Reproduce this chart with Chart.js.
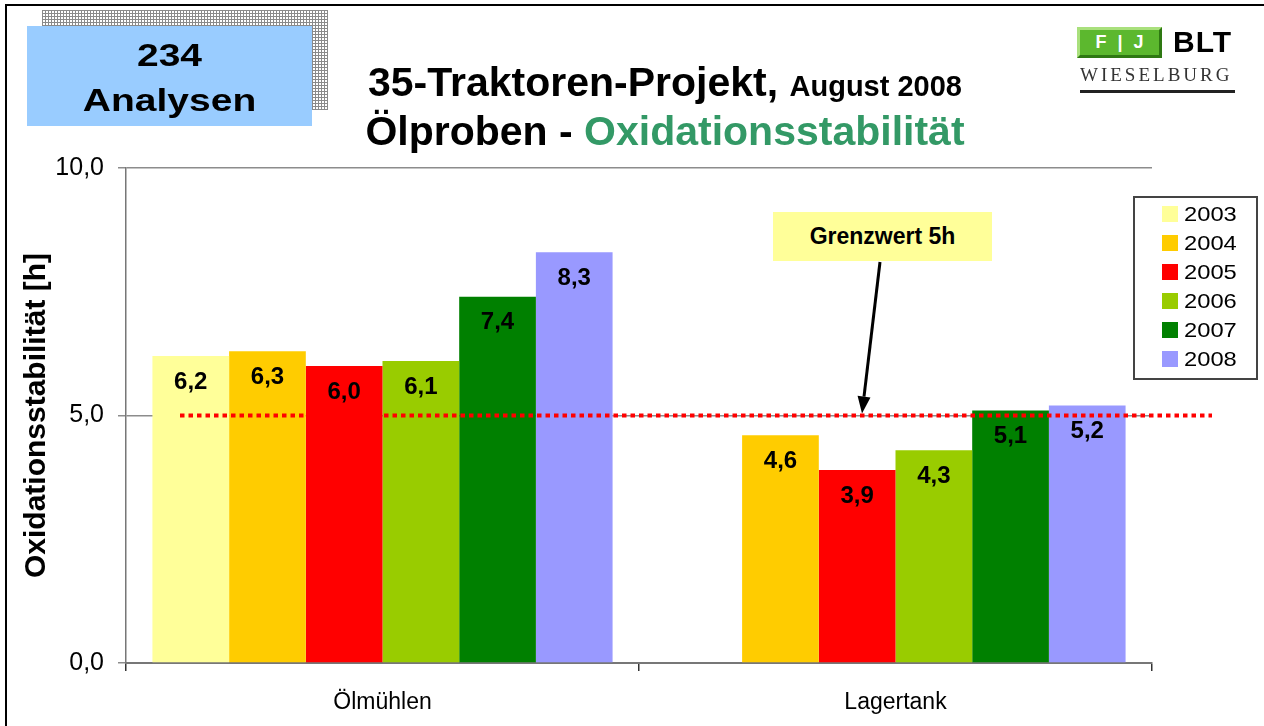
<!DOCTYPE html>
<html lang="de">
<head>
<meta charset="utf-8">
<title>35-Traktoren-Projekt – Oxidationsstabilität</title>
<script src="https://cdn.jsdelivr.net/npm/chart.js@4"></script>
<style>
  body { margin: 0; background: #fff; font-family: 'Liberation Sans', Arial, sans-serif; }
  #wrap { position: relative; width: 1264px; height: 726px; overflow: hidden; }
  #frame { position: absolute; left: 5px; top: 4px; width: 1300px; height: 800px;
    border-top: 2px solid #000; border-left: 2px solid #000; }
  canvas { position: absolute; left: 0; top: 0; }
  .shadow { position: absolute; left: 42px; top: 10px; width: 286px; height: 100px;
    background-color: #fff;
    background-image: linear-gradient(#8a8a8a 1px, transparent 1px),
      linear-gradient(90deg, #8a8a8a 1px, transparent 1px);
    background-size: 3px 3px; }
  .count { position: absolute; left: 27px; top: 26px; width: 285px; height: 100px; background: #99ccff; }
  .count div { position: absolute; left: 0; width: 100%; text-align: center; font-weight: bold;
    font-size: 39px; line-height: 39px; transform: scaleY(0.8); }
  .title { position: absolute; left: 330px; width: 670px; text-align: center; font-weight: bold;
    font-size: 41px; line-height: 41px; white-space: nowrap; }
  .title small { font-size: 29px; }
  .title .green { color: #339966; }
  .logo-box { position: absolute; left: 1077px; top: 27px; width: 79px; height: 25px;
    background: #5cb82e; border: 3px solid; border-color: #a9e07c #2e7812 #2e7812 #a9e07c;
    color: #fff; font-weight: bold; font-size: 18px; line-height: 25px; text-align: center; word-spacing: 6px; }
  .logo-blt { position: absolute; left: 1173px; top: 26px; font-weight: bold; font-size: 30px; line-height: 32px; letter-spacing: 1px; }
  .logo-wb { position: absolute; left: 1080px; top: 64px; font-family: 'Liberation Serif', 'DejaVu Serif', serif;
    font-size: 19px; line-height: 22px; letter-spacing: 3px; color: #333; }
  .logo-line { position: absolute; left: 1080px; top: 90px; width: 155px; height: 3px; background: #222; }
  .limit { position: absolute; left: 773px; top: 212px; width: 219px; height: 49px; background: #ffff99;
    text-align: center; font-weight: bold; font-size: 23px; line-height: 49px; }
  #legend { position: absolute; left: 1133px; top: 196px; width: 121px; height: 180px;
    border: 2px solid #444; background: #fff; }
  #legend .item { position: absolute; left: 0; height: 22px; }
  #legend .sw { position: absolute; left: 27px; top: 3px; width: 16px; height: 16px; }
  #legend .tx { position: absolute; left: 49px; top: 0; font-size: 21px; line-height: 22px;
    transform: scaleX(1.13); transform-origin: left center; }
</style>
</head>
<body>
<div id="wrap">
  <canvas id="oxChart" width="1264" height="726"></canvas>
  <div id="frame"></div>
  <div class="shadow"></div>
  <div class="count">
    <div style="top: 10px;">234</div>
    <div style="top: 55px;">Analysen</div>
  </div>
  <div class="title" style="top: 62px;">35-Traktoren-Projekt, <small>August 2008</small></div>
  <div class="title" style="top: 111px;">Ölproben - <span class="green">Oxidationsstabilität</span></div>
  <div class="logo-box">F | J</div>
  <div class="logo-blt">BLT</div>
  <div class="logo-wb">WIESELBURG</div>
  <div class="logo-line"></div>
  <div class="limit">Grenzwert 5h</div>
  <div id="legend"></div>
</div>
<script>
// Daten
const categories = ['Ölmühlen', 'Lagertank'];
const years = ['2003', '2004', '2005', '2006', '2007', '2008'];
const colors = ['#ffff99', '#ffcc00', '#ff0000', '#99cc00', '#008000', '#9999ff'];
const werte2003 = [6.2, null];
const werte2004 = [6.3, 4.6];
const werte2005 = [6.0, 3.9];
const werte2006 = [6.1, 4.3];
const werte2007 = [7.4, 5.1];
const werte2008 = [8.3, 5.2];
const grenzwert = 5;

const series = [werte2003, werte2004, werte2005, werte2006, werte2007, werte2008];
const fmt = (v) => v.toFixed(1).replace('.', ',');
const FONT = "'Liberation Sans', Arial, sans-serif";

// Werte in den Balken
const labelPlugin = {
  id: 'werte',
  afterDatasetsDraw: (chart) => {
    const ctx = chart.ctx;
    ctx.save();
    ctx.font = 'bold 24px ' + FONT;
    ctx.fillStyle = '#000';
    ctx.textAlign = 'center';
    ctx.textBaseline = 'middle';
    chart.data.datasets.forEach((ds, i) => {
      chart.getDatasetMeta(i).data.forEach((bar, j) => {
        if (ds.data[j] == null) return;
        ctx.fillText(fmt(ds.data[j]), bar.x, bar.y + 26);
      });
    });
    ctx.restore();
  },
};

// Grenzwert-Linie + Pfeil
const limitPlugin = {
  id: 'grenzwert',
  afterDatasetsDraw: (chart) => {
    const ctx = chart.ctx;
    const { left, right } = chart.chartArea;
    const y = chart.scales.y.getPixelForValue(grenzwert);
    ctx.save();
    ctx.strokeStyle = '#ff0000';
    ctx.lineWidth = 4;
    ctx.setLineDash([4.5, 4]);
    ctx.beginPath();
    ctx.moveTo(left + 54, y);
    ctx.lineTo(right + 60, y);
    ctx.stroke();

    // Pfeil vom Kasten zur Linie
    const x0 = left + 754, y0 = 262;
    const x1 = left + 736, y1 = y - 2;
    const ang = Math.atan2(y1 - y0, x1 - x0);
    const head = 17;
    const bx = x1 - head * Math.cos(ang), by = y1 - head * Math.sin(ang);
    ctx.setLineDash([]);
    ctx.strokeStyle = '#000';
    ctx.fillStyle = '#000';
    ctx.lineWidth = 3;
    ctx.beginPath();
    ctx.moveTo(x0, y0);
    ctx.lineTo(bx, by);
    ctx.stroke();
    ctx.beginPath();
    ctx.moveTo(x1, y1);
    ctx.lineTo(bx + 6.5 * Math.sin(ang), by - 6.5 * Math.cos(ang));
    ctx.lineTo(bx - 6.5 * Math.sin(ang), by + 6.5 * Math.cos(ang));
    ctx.closePath();
    ctx.fill();
    ctx.restore();
  },
};

const ctx = document.getElementById('oxChart').getContext('2d');
const chart = new Chart(ctx, {
  type: 'bar',
  data: {
    labels: categories,
    datasets: years.map((year, i) => ({
      label: year,
      data: series[i],
      backgroundColor: colors[i],
      borderWidth: 0,
      categoryPercentage: 0.897,
      barPercentage: 1,
    })),
  },
  options: {
    responsive: false,
    animation: false,
    layout: { padding: { top: 168, right: 112, left: 0, bottom: 0 } },
    scales: {
      x: {
        afterFit: (scale) => { scale.height = 63; },
        grid: { drawOnChartArea: false, offset: true, tickLength: 8, color: '#333', lineWidth: 1.5 },
        border: { color: '#777', width: 2 },
        ticks: { color: '#000', padding: 18, font: { family: FONT, size: 23 } },
      },
      y: {
        min: 0,
        max: 10,
        afterFit: (scale) => { scale.width = 126; },
        grid: { color: '#8c8c8c', lineWidth: 1.5, tickLength: 8 },
        border: { color: '#777', width: 1.5 },
        ticks: {
          stepSize: 5,
          color: '#000',
          padding: 14,
          font: { family: FONT, size: 25 },
          callback: (v) => fmt(v),
        },
        title: {
          display: true,
          text: 'Oxidationsstabilität [h]',
          color: '#000',
          font: { family: FONT, size: 30, weight: 'bold' },
          padding: { top: 19, bottom: 0 },
        },
      },
    },
    plugins: {
      legend: { display: false },
      tooltip: { enabled: false },
    },
  },
  plugins: [labelPlugin, limitPlugin],
});

// Legende
const legend = document.getElementById('legend');
years.forEach((year, i) => {
  const item = document.createElement('div');
  item.className = 'item';
  item.style.top = 5 + i * 29 + 'px';
  item.innerHTML = `<span class="sw" style="background:${colors[i]}"></span><span class="tx">${year}</span>`;
  legend.appendChild(item);
});
</script>
</body>
</html>
